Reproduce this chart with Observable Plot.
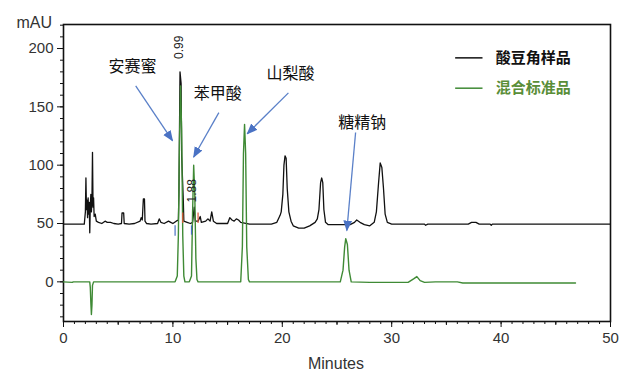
<!DOCTYPE html>
<html><head><meta charset="utf-8">
<script src="https://cdn.jsdelivr.net/npm/d3@7"></script>
<script src="https://cdn.jsdelivr.net/npm/@observablehq/plot@0.6"></script>
<style>body{margin:0;background:#fff}</style>
</head><body><div id="chart"></div><script>
// Sample trace (酸豆角样品), minutes / mAU
const sampleTime = [0,1.9,2.0,2.05,2.1,2.15,2.2,2.25,2.3,2.35,2.4,2.45,2.5,2.55,2.6,2.65,2.7,2.75,2.8,2.9,3.0,3.2,3.5,3.8,4.0,4.3,4.6,5.0,5.3,5.35,5.5,5.55,6.0,6.5,7.0,7.1,7.2,7.3,7.4,7.45,7.6,8.0,8.6,8.75,8.9,9.2,9.6,9.8,10.0,10.3,10.5,10.55,10.65,10.75,10.8,10.95,11.0,11.3,11.6,11.8,11.95,12.05,12.3,12.5,12.6,13.0,13.2,13.4,13.55,13.7,14.0,15.0,15.2,15.4,15.6,15.8,16.0,16.2,17.0,19.0,19.5,19.8,19.9,20.05,20.15,20.25,20.35,20.45,20.6,20.8,21.0,21.5,22.0,22.5,23.0,23.2,23.35,23.5,23.6,23.7,23.8,23.95,24.2,25.0,26.2,26.6,26.8,27.1,27.5,28.0,28.4,28.6,28.8,28.95,29.1,29.25,29.4,29.6,30.0,33.0,33.1,33.3,37.0,37.3,37.7,38.0,39.0,39.1,39.2,50.0];
const sampleMAU  = [49.5,49.5,60,89,62,70,55,72,58,68,42,65,75,60,70,111,64,72,56,58,52,51,50,52,51,51,50,49.5,50,59,59,50,49.5,50,52,55,53,71,71,52,50,49.5,50,54,51,50,52,51,50,52,53,75,180,170,108,70,52,51,50,51,64,52,52,56,51,52,54,52,60,52,50,50,55,53,52,54,53,51,49.5,49.5,51,57,60,75,100,108,106,80,60,52,48,46,46,48,51,54,62,85,89,85,62,51,49,49,49,51,53,51,49,48,51,60,85,102,98,80,58,51,49.5,49.5,48.5,49.5,49.5,51,51,49.5,49.5,48.5,49.5,49.5];
// Mixed standard trace (混合标准品)
const standardTime = [0,0.8,0.9,2.4,2.45,2.5,2.55,2.6,2.65,2.75,3.5,10.2,10.4,10.5,10.6,10.7,10.8,10.9,11.0,11.1,11.5,11.7,11.8,11.9,12.0,12.1,12.2,12.3,16.2,16.35,16.45,16.55,16.65,16.75,16.9,17.0,25.3,25.55,25.7,25.8,25.95,26.1,26.3,28.0,31.5,32.0,32.3,32.6,33.0,34.0,36.0,36.5,46.8];
const standardMAU  = [0,-0.5,0,0,-5,-18,-28,-20,-3,0,0,0,5,40,120,168,130,40,5,0,0,5,60,100,75,20,2,0,0,30,110,135,110,30,2,0,0,10,30,37,32,10,0,-0.5,-0.5,2.5,4.5,1,-0.5,0,0,-1,-1];

// Axis ticks
const xTickLabels = [0,10,20,30,40,50];
const yTickLabels = [0,50,100,150,200];

// Compound annotations
const compoundNames = ["安赛蜜","苯甲酸","山梨酸","糖精钠"];
const labelX = [6.3,14.1,20.75,27.3];
const labelY = [184,161,178,136];
const arrowFromX = [6.6,14.2,20.56,26.7];
const arrowFromY = [168,145,162,128];
const arrowToX = [9.96,11.9,16.8,25.9];
const arrowToY = [121,107,127,44];

// Retention time labels
const rtText = ["0.99","1.88"];
const rtX = [10.6,11.75];
const rtY = [191,68];

// Integration markers
const markX = [10.2,10.9,11.7,12.3];
const markY1 = [48,50,48,50];
const markY2 = [39,59,40,59];
const markColor = ["#4a72c4","#e0573a","#4a72c4","#e0573a"];

// Legend
const legendNames = ["酸豆角样品","混合标准品"];
const legendColors = ["#111111","#3f8a35"];
const legendTextColors = ["#111111","#5a8e38"];
const legendY = [192,166];

const sampleRows = sampleTime.map((t,i)=>({t, v: sampleMAU[i]}));
const standardRows = standardTime.map((t,i)=>({t, v: standardMAU[i]}));
const labelRows = compoundNames.map((n,i)=>({n, x: labelX[i], y: labelY[i]}));
const arrowRows = compoundNames.map((n,i)=>({x1: arrowFromX[i], y1: arrowFromY[i], x2: arrowToX[i], y2: arrowToY[i]}));
const rtRows = rtText.map((s,i)=>({s, x: rtX[i], y: rtY[i]}));
const markRows = markX.map((x,i)=>({x, y1: markY1[i], y2: markY2[i], c: markColor[i]}));
const legendRows = legendNames.map((n,i)=>({n, y: legendY[i], c: legendColors[i], tc: legendTextColors[i]}));

const cjk = "'Noto Sans CJK SC', 'Noto Sans', sans-serif";
const arrowBlue = "#5a80c8";

const chart = Plot.plot({
  width: 637,
  height: 384,
  marginLeft: 63,
  marginRight: 27,
  marginTop: 24,
  marginBottom: 63,
  style: {fontFamily: "Arial, 'Liberation Sans', sans-serif", fontSize: "15px", color: "#333", background: "#fff"},
  x: {domain: [0, 50]},
  y: {domain: [-34, 220.6]},
  marks: [
    Plot.axisX({ticks: d3.range(0, 51, 1), tickSize: 3, text: null, stroke: "#111"}),
    Plot.axisX({ticks: [5,15,25,35,45], tickSize: 4, text: null, stroke: "#111"}),
    Plot.axisX({ticks: xTickLabels, tickSize: 6, tickPadding: 5, stroke: "#111", label: null, fontSize: 15}),
    Plot.axisY({ticks: d3.range(-30, 221, 10), tickSize: 3, text: null, stroke: "#111"}),
    Plot.axisY({ticks: yTickLabels, tickSize: 6, tickPadding: 4, stroke: "#111", label: null, fontSize: 15}),
    Plot.frame({stroke: "#111", strokeWidth: 1.6}),
    Plot.line(sampleRows, {x: "t", y: "v", stroke: "#111", strokeWidth: 1.3}),
    Plot.line(standardRows, {x: "t", y: "v", stroke: "#3f8a35", strokeWidth: 1.4}),
    Plot.ruleX(markRows, {x: "x", y1: "y1", y2: "y2", stroke: "c", strokeWidth: 1.2}),
    Plot.link(arrowRows, {x1: "x1", y1: "y1", x2: "x2", y2: "y2", stroke: arrowBlue, strokeWidth: 1.3, markerEnd: "arrow"}),
    Plot.text(labelRows, {x: "x", y: "y", text: "n", fontFamily: cjk, fontSize: 16, fill: "#111", fontWeight: "normal"}),
    Plot.text(rtRows, {x: "x", y: "y", text: "s", rotate: -90, textAnchor: "start", fontSize: 12, fill: "#222"}),
    Plot.link(legendRows, {x1: 35.8, x2: 38.3, y1: "y", y2: "y", stroke: "c", strokeWidth: 1.5}),
    Plot.text(legendRows, {x: 39.5, y: "y", text: "n", fill: "tc", textAnchor: "start", fontFamily: cjk, fontWeight: "bold", fontSize: 15}),
    Plot.text(["mAU"], {frameAnchor: "top-left", dx: -47, dy: 3, textAnchor: "start", lineAnchor: "bottom", fontSize: 16, fill: "#333"}),
    Plot.text(["Minutes"], {frameAnchor: "bottom", dx: -1, dy: 47, lineAnchor: "bottom", fontSize: 16, fill: "#333"})
  ]
});

chart.querySelectorAll("marker").forEach(m => {
  m.setAttribute("viewBox", "-9 -5 10 10");
  m.setAttribute("markerWidth", "11");
  m.setAttribute("markerHeight", "11");
  m.setAttribute("markerUnits", "userSpaceOnUse");
  m.removeAttribute("stroke");
  m.setAttribute("fill", "#4a72c4");
  m.innerHTML = "";
  const p = document.createElementNS("http://www.w3.org/2000/svg", "path");
  p.setAttribute("d", "M-9,-4L1,0L-9,4Z");
  p.setAttribute("fill", "#4a72c4");
  p.setAttribute("stroke", "none");
  m.appendChild(p);
});

document.getElementById("chart").appendChild(chart);
</script></body></html>
